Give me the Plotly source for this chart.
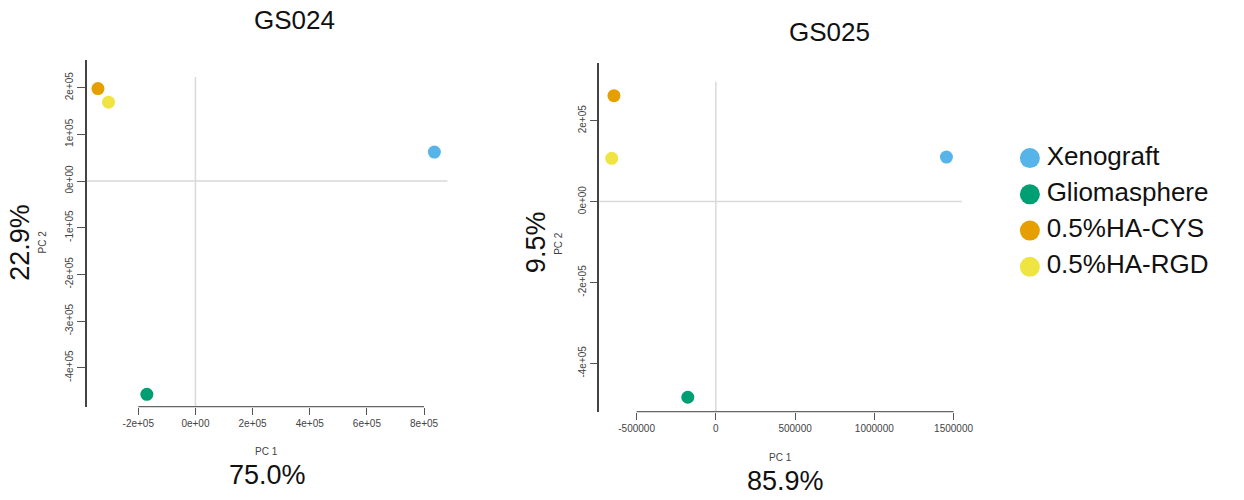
import plotly.graph_objects as go

# ---- data ----
groups = ["Xenograft", "Gliomasphere", "0.5%HA-CYS", "0.5%HA-RGD"]
colors = ["#56B4E9", "#009E73", "#E69F00", "#F0E442"]

gs024_pc1 = [836000, -170000, -341000, -304000]
gs024_pc2 = [62000, -457000, 198000, 169000]
gs025_pc1 = [1455000, -177000, -643000, -657000]
gs025_pc2 = [110000, -484000, 262000, 107000]

left_xticks = [-200000, 0, 200000, 400000, 600000, 800000]
left_xtext = ["-2e+05", "0e+00", "2e+05", "4e+05", "6e+05", "8e+05"]
left_yticks = [-400000, -300000, -200000, -100000, 0, 100000, 200000]
left_ytext = ["-4e+05", "-3e+05", "-2e+05", "-1e+05", "0e+00", "1e+05", "2e+05"]
right_xticks = [-500000, 0, 500000, 1000000, 1500000]
right_xtext = ["-500000", "0", "500000", "1000000", "1500000"]
right_yticks = [-400000, -200000, 0, 200000]
right_ytext = ["-4e+05", "-2e+05", "0e+00", "2e+05"]

titles = ["GS024", "GS025"]
pc1_var = ["75.0%", "85.9%"]
pc2_var = ["22.9%", "9.5%"]

W, H = 1244, 500
FONT = "Liberation Sans, Arial, sans-serif"


def px(x):
    return x / W


def py(y):
    return 1 - y / H


fig = go.Figure()

fig.add_trace(go.Scatter(x=gs024_pc1, y=gs024_pc2, mode="markers", xaxis="x", yaxis="y",
                         marker=dict(size=13, color=colors), showlegend=False, hoverinfo="skip"))
fig.add_trace(go.Scatter(x=gs025_pc1, y=gs025_pc2, mode="markers", xaxis="x2", yaxis="y2",
                         marker=dict(size=13, color=colors), showlegend=False, hoverinfo="skip"))
# legend drawn as a small panel with hidden axes (x3 range = pixels of the panel)
fig.add_trace(go.Scatter(x=[15] * len(groups), y=list(range(len(groups))), mode="markers",
                         xaxis="x3", yaxis="y3", marker=dict(size=20, color=colors),
                         showlegend=False, hoverinfo="skip", cliponaxis=False))
fig.add_trace(go.Scatter(x=[32] * len(groups), y=list(range(len(groups))), mode="text",
                         xaxis="x3", yaxis="y3", text=groups, textposition="middle right",
                         textfont=dict(size=26, color="#111", family=FONT),
                         showlegend=False, hoverinfo="skip", cliponaxis=False))

tickfont = dict(size=10, color="#444", family=FONT)
common_axis = dict(showgrid=False, zeroline=False, ticks="outside", tickcolor="#555",
                   tickwidth=1, tickfont=tickfont, fixedrange=True)
hidden_axis = dict(showgrid=False, zeroline=False, showline=False, showticklabels=False,
                   ticks="", fixedrange=True, autorange=False)

fig.update_layout(
    width=W, height=H, margin=dict(l=0, r=0, t=0, b=0),
    paper_bgcolor="white", plot_bgcolor="rgba(0,0,0,0)",
    font=dict(family=FONT),
    xaxis=dict(domain=[px(88), px(454)], range=[-380300, 881700], anchor="y",
               tickvals=left_xticks, ticktext=left_xtext, ticklen=7, showline=False,
               **common_axis),
    yaxis=dict(domain=[py(406.7), py(60)], range=[-483600, 259300], anchor="x",
               tickvals=left_yticks, ticktext=left_ytext, ticklen=8, tickangle=-90,
               showline=True, linecolor="#444", linewidth=1.5, **common_axis),
    xaxis2=dict(domain=[px(608), px(969)], range=[-736000, 1509000], anchor="y2",
                tickvals=right_xticks, ticktext=right_xtext, ticklen=7, showline=False,
                **common_axis),
    yaxis2=dict(domain=[py(411.7), py(63)], range=[-519700, 342800], anchor="x2",
                tickvals=right_yticks, ticktext=right_ytext, ticklen=7, tickangle=-90,
                showline=True, linecolor="#444", linewidth=1.5, **common_axis),
    xaxis3=dict(domain=[px(1030), 1], range=[0, 214], anchor="y3", **hidden_axis),
    yaxis3=dict(domain=[py(285), py(140)], range=[3.5, -0.5], anchor="x3", **hidden_axis),
)

shapes = []
# zero reference lines
shapes.append(dict(type="line", xref="x domain", yref="y", x0=0, x1=1, y0=0, y1=0,
                   line=dict(color="#d9d9d9", width=1.5), layer="below"))
shapes.append(dict(type="line", xref="x", yref="y domain", x0=0, x1=0, y0=0, y1=0.951,
                   line=dict(color="#d9d9d9", width=1.5), layer="below"))
shapes.append(dict(type="line", xref="x2 domain", yref="y2", x0=0, x1=1.019, y0=0, y1=0,
                   line=dict(color="#d9d9d9", width=1.5), layer="below"))
shapes.append(dict(type="line", xref="x2", yref="y2 domain", x0=0, x1=0, y0=0, y1=0.946,
                   line=dict(color="#d9d9d9", width=1.5), layer="below"))
# x axis lines spanning tick range (R style)
shapes.append(dict(type="line", xref="x", yref="y domain", x0=left_xticks[0], x1=left_xticks[-1],
                   y0=0, y1=0, line=dict(color="#666", width=1.2)))
shapes.append(dict(type="line", xref="x2", yref="y2 domain", x0=right_xticks[0],
                   x1=right_xticks[-1], y0=0, y1=0, line=dict(color="#666", width=1.2)))
fig.update_layout(shapes=shapes)

ann = []
title_pos = [(299, 20), (842, 32)]
pc1_lab = [(270, 451), (792, 457)]
pc1_pct = [(271, 475), (797, 481)]
pc2_lab = [(43, 242), (566, 243)]
pc2_pct = [(20, 242), (544, 242)]
for i in range(2):
    ann.append(dict(text=titles[i], x=px(title_pos[i][0]), y=py(title_pos[i][1]), xref="paper",
                    yref="paper", showarrow=False, font=dict(size=26, color="#111", family=FONT),
                    xanchor="center", yanchor="middle", borderpad=0))
    ann.append(dict(text="PC 1", x=px(pc1_lab[i][0]), y=py(pc1_lab[i][1]), xref="paper",
                    yref="paper", showarrow=False, font=dict(size=10, color="#444", family=FONT),
                    xanchor="center", yanchor="middle"))
    ann.append(dict(text=pc1_var[i], x=px(pc1_pct[i][0]), y=py(pc1_pct[i][1]), xref="paper",
                    yref="paper", showarrow=False, font=dict(size=27, color="#111", family=FONT),
                    xanchor="center", yanchor="middle", borderpad=0))
    ann.append(dict(text="PC 2", x=px(pc2_lab[i][0]), y=py(pc2_lab[i][1]), xref="paper",
                    yref="paper", showarrow=False, font=dict(size=10, color="#444", family=FONT),
                    xanchor="center", yanchor="middle", textangle=-90))
    ann.append(dict(text=pc2_var[i], x=px(pc2_pct[i][0]), y=py(pc2_pct[i][1]), xref="paper",
                    yref="paper", showarrow=False, font=dict(size=27, color="#111", family=FONT),
                    xanchor="center", yanchor="middle", textangle=-90, borderpad=0))
fig.update_layout(annotations=ann)

# remove the default 8px page margin so figure pixels map 1:1 to the window
fig.write_html("out.html", config=dict(displayModeBar=False),
               post_script="document.body.style.margin='0';document.body.style.overflow='hidden';")
